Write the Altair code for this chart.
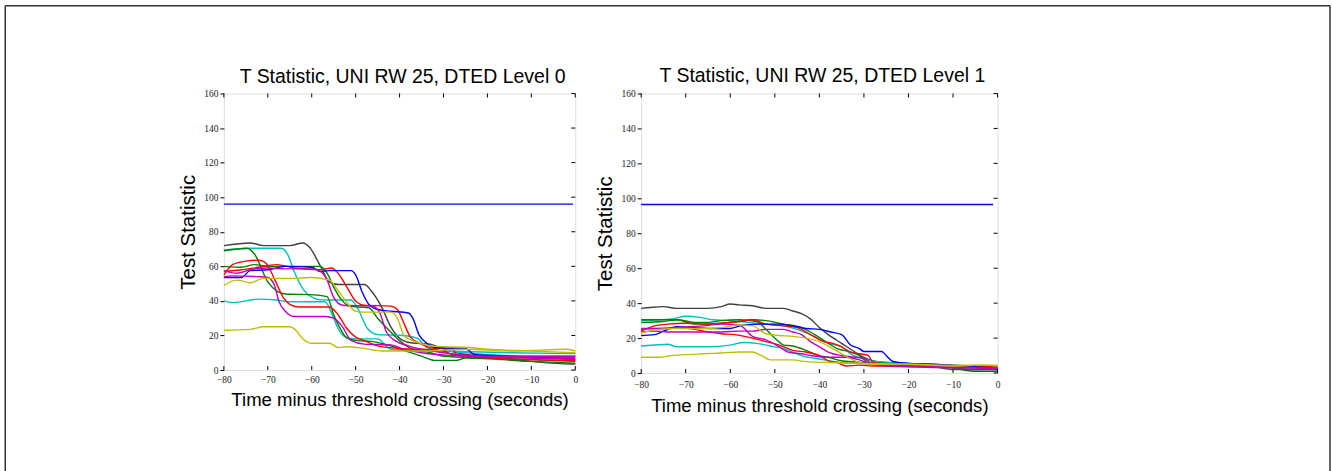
import altair as alt
import pandas as pd

# ---------------- data ----------------
BLUE, GREEN, RED, CYAN, MAGENTA, YELLOW, GRAY = "#0000FF", "#008000", "#FF0000", "#00BFBF", "#BF00BF", "#BFBF00", "#404040"

# Panel 1 (DTED Level 0)
p1_gray_x = [-80, -74, -71, -65, -62, -60.5, -58, -56, -54, -48, -46.5, -44, -42, -39.5, -37, -33, -31, -25, -20, -10, -1, 0]
p1_gray_y = [72, 73.5, 72, 72, 73.5, 71, 60, 51, 49.5, 49.5, 46, 36, 25, 17.5, 15.6, 15, 13, 9, 8, 5, 3.5, 3.5]
p1_cyan1_x = [-80, -74, -67, -65.5, -64, -62, -59.5, -58, -51, -49.6, -47.3, -45, -39, -36, -33.5, -25, -10, 0]
p1_cyan1_y = [69.5, 70.5, 70.5, 67, 57, 47, 41.6, 40.6, 40.5, 36, 24, 20.5, 20, 18.5, 12.7, 10, 8, 8]
p1_cyan2_x = [-80, -78, -72, -68, -65, -57, -55, -54, -52.6, -50, -45, -42, -30, -15, 0]
p1_cyan2_y = [40, 39, 41, 40.5, 39.5, 39.5, 30, 24, 19.5, 18, 18, 12, 11, 10, 9.5]
p1_green1_x = [-80, -74.7, -73, -70, -67.8, -66, -59.5, -56.5, -55, -53.5, -52, -49.6, -46.5, -42, -38, -35, -32, -27, -25, -10, 0]
p1_green1_y = [69, 70.5, 67, 51, 45.5, 44, 43.5, 42.5, 32, 24, 18.5, 17, 16.6, 14, 10.5, 8, 5.6, 5.6, 7, 5, 4]
p1_green2_x = [-80, -76, -73, -70, -58, -56.5, -55, -53, -51.5, -47, -45, -42, -40, -37, -33, -30, -20, -10, 0]
p1_green2_y = [60, 59.5, 61, 60, 60, 56, 48, 40, 37, 36, 30, 22, 17, 12, 10, 8, 7, 6, 5]
p1_red1_x = [-80, -78, -75, -72, -70.5, -69.5, -68, -66.5, -65, -63, -56, -54, -52, -50, -48, -45, -40, -35, -30, -28, -20, -10, 0]
p1_red1_y = [55, 61, 63, 63.5, 62, 58, 50, 42, 38, 36.5, 36.5, 32, 24, 19, 17, 14, 12.5, 12, 11, 9, 8, 7, 6]
p1_red2_x = [-80, -76, -72, -68, -64, -58, -55.5, -54, -52, -50, -48, -42, -40.5, -39, -37.5, -35, -32, -28, -27, -20, -10, 0]
p1_red2_y = [57, 58, 59.5, 61, 59, 58, 59, 56, 48, 40, 37.5, 37, 35, 27, 19, 15, 12.5, 12.5, 9, 7, 6, 5.5]
p1_blue_x = [-80, -76, -74, -70, -66, -60, -58, -56, -51, -50, -48.5, -47, -45, -42, -38, -37, -35.5, -34, -32, -25, -23, -15, -5, 0]
p1_blue_y = [53.5, 53.5, 57.5, 58, 60, 59.5, 57, 57.5, 57.5, 55, 45, 38, 35, 34, 33, 30, 20, 16, 13, 12.5, 9, 8, 7, 7]
p1_mag1_x = [-80, -77, -74, -70, -66, -60, -58, -56.5, -55, -53, -46, -44.5, -43, -41, -38, -30, -20, -10, 0]
p1_mag1_y = [57.5, 56, 58, 59, 58.5, 58.5, 57, 52, 42, 37.5, 37, 33, 22, 17, 14, 10, 8, 8, 8]
p1_mag2_x = [-80, -78, -72, -70, -68.5, -67.5, -66, -64, -57, -55, -53, -51, -48, -42, -39, -35, -25, -10, 0]
p1_mag2_y = [54, 54.5, 54, 53.5, 49, 40, 34, 31, 31, 30, 25, 17, 15, 14.5, 12, 10, 8, 7, 6.5]
p1_yel1_x = [-80, -77, -74, -71, -65, -60, -56, -54, -52, -50, -48, -42, -40.5, -39, -36, -33, -30, -24, -20, -10, 0]
p1_yel1_y = [49, 52, 50.5, 53, 53, 53.5, 52, 46, 39, 34, 33.5, 33.5, 30, 20, 16, 14, 13.5, 13, 12, 11, 10]
p1_yel2_x = [-80, -74, -71, -65, -64, -62, -60, -56, -54, -52, -48, -44, -35, -25, -15, -8, -2, 0]
p1_yel2_y = [23, 23.5, 25, 25, 24, 18, 15.5, 15.5, 13, 13.5, 12.5, 11, 11, 12, 11, 11.5, 12, 11]
p1_threshold_x = [-80, -0.5]
p1_threshold_y = [96, 96]

# Panel 2 (DTED Level 1)
p2_gray_x = [-80, -78, -75, -72, -65, -62, -60, -58, -55, -52, -48, -46, -44, -42, -40, -38, -35, -32, -30, -28, -25, -15, -10, -5, 0]
p2_gray_y = [37, 37.5, 38, 37, 37, 38, 39.5, 39, 38.5, 37, 37, 35.5, 34, 31, 26, 22, 17, 12, 9, 7, 6, 5, 3, 1, 1]
p2_cyan1_x = [-80, -73, -70, -67, -64, -60, -56, -52, -48, -45, -42, -38, -35, -33, -30, -25, -15, -5, 0]
p2_cyan1_y = [30, 31, 32.5, 32, 30.5, 30, 29, 28, 27, 25, 22, 17, 15, 11, 8, 6, 5, 4, 4]
p2_cyan2_x = [-80, -77, -74, -72, -65, -60, -57, -54, -52, -50, -48, -46, -44, -40, -35, -25, -10, 0]
p2_cyan2_y = [15.5, 16, 16.5, 15, 15, 16, 17.5, 17, 16, 15, 14, 12, 10, 8, 6, 5, 4, 3]
p2_green1_x = [-80, -75, -72, -68, -65, -62, -58, -54, -52, -50, -48, -46, -43, -40, -38, -35, -30, -20, -10, -5, 0]
p2_green1_y = [29, 29.5, 30.5, 29, 29, 30, 30.5, 29.5, 25, 20, 16, 15.5, 13, 10, 9, 7, 6, 5, 3, 2, 2.5]
p2_green2_x = [-80, -72, -68, -62, -58, -55, -52, -48, -44, -41, -38, -36, -33, -31, -29, -25, -15, -10, 0]
p2_green2_y = [30.5, 30.5, 28, 28.5, 29.5, 30.5, 30, 28, 26, 22, 17, 14, 12, 10, 6, 5, 4, 2, 2]
p2_red1_x = [-80, -77, -74, -70, -66, -62, -58, -55, -52, -48, -45, -42, -39, -37, -35, -33, -31, -29, -28, -25, -15, -8, 0]
p2_red1_y = [24, 27, 28, 28.5, 28, 28.5, 29.5, 30.5, 28, 27, 26, 22, 18, 17, 15, 12, 11, 10, 6, 5, 5, 4, 3.5]
p2_red2_x = [-80, -76, -72, -68, -66, -62, -59, -55, -52, -49, -46, -43, -40, -38, -36, -34, -31, -28, -20, -10, 0]
p2_red2_y = [25, 25.5, 26, 25, 24, 22.5, 22, 20, 18, 16, 13, 12, 10, 7, 6, 4, 4.5, 4, 4, 3.5, 3]
p2_blue_x = [-80, -77, -75, -72, -68, -64, -60, -57, -53, -49, -46, -43, -40, -37.5, -35, -33, -31, -30, -26, -25, -23.5, -20, -10, 0]
p2_blue_y = [21.5, 22, 24, 26.5, 26, 25.5, 25.5, 27.5, 28, 28, 27, 25.5, 25, 23.5, 22, 16, 14, 12.3, 12.3, 10, 6.6, 5.5, 4.5, 2.5]
p2_mag1_x = [-80, -77, -74, -70, -62, -58, -55, -52, -48, -46, -44, -42, -40, -38, -35, -32, -30, -28, -25, -10, 0]
p2_mag1_y = [23.5, 24, 23.5, 23.5, 23.5, 24, 24, 25, 25, 23.5, 22, 18, 15, 12, 10, 9, 8.5, 5, 4, 3, 2.5]
p2_mag2_x = [-80, -75, -72, -66, -62, -58, -55, -52, -49, -47, -44, -42, -38, -34, -31, -28, -20, -10, 0]
p2_mag2_y = [25.5, 25.5, 26, 27, 28, 27.5, 21, 19, 15, 12, 11, 10, 9, 9, 7.5, 5, 4.5, 3.5, 3]
p2_yel1_x = [-80, -76, -72, -66, -62, -58, -55, -52, -49, -46, -43, -40, -37, -35, -32, -29, -20, -10, -3, 0]
p2_yel1_y = [23, 25, 25.5, 25.5, 26, 27.5, 27, 22.5, 21.5, 21, 20, 18, 14, 11, 7, 5, 5, 4, 4.5, 4]
p2_yel2_x = [-80, -76, -73, -70, -66, -62, -58, -55, -53, -51, -46, -43, -38, -30, -20, -10, 0]
p2_yel2_y = [9, 9, 10, 10.5, 11, 11.5, 12, 12, 10, 7.5, 7.5, 6.5, 6, 5.5, 5, 4.5, 4.5]
p2_threshold_x = [-80, -1]
p2_threshold_y = [96.5, 96.5]

x_ticks = [-80, -70, -60, -50, -40, -30, -20, -10, 0]
y_ticks = [0, 20, 40, 60, 80, 100, 120, 140, 160]

titles = ["T Statistic, UNI RW 25, DTED Level 0", "T Statistic, UNI RW 25, DTED Level 1"]
x_title = "Time minus threshold crossing (seconds)"
y_title = "Test Statistic"

p1_series = [
    ("gray", GRAY, p1_gray_x, p1_gray_y), ("cyan1", CYAN, p1_cyan1_x, p1_cyan1_y),
    ("cyan2", CYAN, p1_cyan2_x, p1_cyan2_y), ("green1", GREEN, p1_green1_x, p1_green1_y),
    ("green2", GREEN, p1_green2_x, p1_green2_y), ("red1", RED, p1_red1_x, p1_red1_y),
    ("red2", RED, p1_red2_x, p1_red2_y), ("blue", BLUE, p1_blue_x, p1_blue_y),
    ("mag1", MAGENTA, p1_mag1_x, p1_mag1_y), ("mag2", MAGENTA, p1_mag2_x, p1_mag2_y),
    ("yel1", YELLOW, p1_yel1_x, p1_yel1_y), ("yel2", YELLOW, p1_yel2_x, p1_yel2_y),
    ("thr", BLUE, p1_threshold_x, p1_threshold_y),
]
p2_series = [
    ("gray", GRAY, p2_gray_x, p2_gray_y), ("cyan1", CYAN, p2_cyan1_x, p2_cyan1_y),
    ("cyan2", CYAN, p2_cyan2_x, p2_cyan2_y), ("green1", GREEN, p2_green1_x, p2_green1_y),
    ("green2", GREEN, p2_green2_x, p2_green2_y), ("red1", RED, p2_red1_x, p2_red1_y),
    ("red2", RED, p2_red2_x, p2_red2_y), ("blue", BLUE, p2_blue_x, p2_blue_y),
    ("mag1", MAGENTA, p2_mag1_x, p2_mag1_y), ("mag2", MAGENTA, p2_mag2_x, p2_mag2_y),
    ("yel1", YELLOW, p2_yel1_x, p2_yel1_y), ("yel2", YELLOW, p2_yel2_x, p2_yel2_y),
    ("thr", BLUE, p2_threshold_x, p2_threshold_y),
]


def to_df(series):
    rows = []
    for name, color, xs, ys in series:
        for i, (xv, yv) in enumerate(zip(xs, ys)):
            rows.append({"series": name, "color": color, "x": xv, "y": yv, "i": i})
    return pd.DataFrame(rows)


XDOM = [-80, 0]
YDOM = [0, 160]
SANS = "Liberation Sans"
SERIF = "Liberation Serif"


def panel(series, title, W, H, xlab_pad, title_y, border=False):
    df = to_df(series)
    xs = alt.Scale(domain=XDOM, nice=False, zero=False)
    ys = alt.Scale(domain=YDOM, nice=False)
    x_axis = alt.Axis(
        values=x_ticks, ticks=False, domain=False, grid=False, labelFont=SERIF,
        labelFontSize=9.5, labelColor="#222", labelPadding=xlab_pad, title=x_title,
        titleFont=SANS, titleFontSize=18.6, titleFontWeight="normal", titleColor="#000",
        titlePadding=7, labelFlush=False)
    y_axis = alt.Axis(
        values=y_ticks, tickSize=4, tickColor="#000", domain=False, grid=False,
        labelFont=SERIF, labelFontSize=9.5, labelColor="#222", labelPadding=2,
        title=y_title, titleFont=SANS, titleFontSize=20.5, titleFontWeight="normal",
        titleColor="#000", titlePadding=5)

    def X(field):
        return alt.X(field, scale=xs, axis=x_axis, title=x_title)

    def Y(field):
        return alt.Y(field, scale=ys, axis=y_axis, title=y_title)

    lines = alt.Chart(df).mark_line(interpolate="monotone", strokeWidth=1.4).encode(
        x=X("x:Q"), y=Y("y:Q"),
        color=alt.Color("color:N", scale=None),
        detail="series:N",
        order="i:Q",
    )
    tdf_x = pd.DataFrame({"x": x_ticks})
    tdf_y = pd.DataFrame({"y": y_ticks})
    xt_bottom = alt.Chart(tdf_x).mark_rule(color="#000", strokeWidth=1).encode(
        x=X("x:Q"), y=alt.value(H), y2=alt.value(H - 4))
    xt_top = alt.Chart(tdf_x).mark_rule(color="#000", strokeWidth=1).encode(
        x=X("x:Q"), y=alt.value(0), y2=alt.value(4))
    yt_right = alt.Chart(tdf_y).mark_rule(color="#000", strokeWidth=1).encode(
        y=Y("y:Q"), x=alt.value(W), x2=alt.value(W - 4))
    ttl = alt.Chart(pd.DataFrame({"t": [title]})).mark_text(
        font=SANS, fontSize=19.5, align="center", baseline="alphabetic", color="#000").encode(
        text="t:N", x=alt.value(W / 2 + 3), y=alt.value(title_y))
    layers = []
    if border:
        bdf = pd.DataFrame({"b": [0]})
        bcol, bw = "#333", 1.5
        layers += [
            alt.Chart(bdf).mark_rule(color=bcol, strokeWidth=bw).encode(
                x=alt.value(-219), y=alt.value(-88), y2=alt.value(379)),
            alt.Chart(bdf).mark_rule(color=bcol, strokeWidth=bw).encode(
                x=alt.value(1108), y=alt.value(-88), y2=alt.value(379)),
            alt.Chart(bdf).mark_rule(color=bcol, strokeWidth=bw).encode(
                x=alt.value(-219), x2=alt.value(1108), y=alt.value(-88)),
        ]
    layers += [lines, xt_bottom, xt_top, yt_right, ttl]
    return alt.layer(*layers).properties(width=W, height=H)


p1 = panel(p1_series, titles[0], 352, 277, 4, -11, border=True)
p2 = panel(p2_series, titles[1], 357, 280, 7, -12)

chart = alt.hconcat(p1, p2, spacing=66, bounds="flush").properties(
    padding={"left": 3.25, "top": 3.25, "right": 0, "bottom": 0},
).configure_view(stroke="#000", strokeWidth=1).configure(background="#ffffff")

chart.save("out.html", embed_options={"renderer": "svg", "actions": False})
